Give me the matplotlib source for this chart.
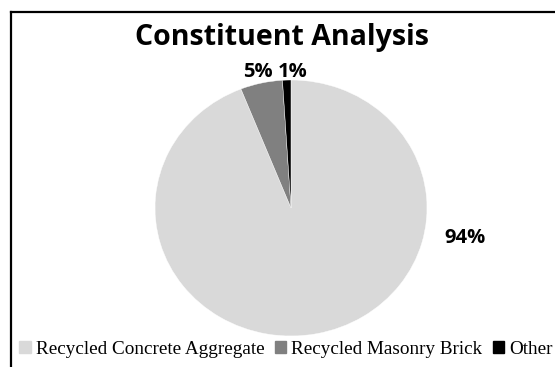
import matplotlib
matplotlib.use('Agg')
import matplotlib.pyplot as plt
from matplotlib.lines import Line2D

# data
categories = ['Recycled Concrete Aggregate', 'Recycled Masonry Brick', 'Other']
shares = [94, 5, 1]
colors = ['#d9d9d9', '#808080', '#000000']
pctLabels = ['94%', '5%', '1%']

W, H = 555, 367
fig = plt.figure(figsize=(W / 100, H / 100), dpi=100)
ax = fig.add_axes([0, 0, 1, 1])

# pie is slightly stretched horizontally in the reference
cx, cy = 291.0, 208.0   # centre in px (from top-left)
rx, ry = 136.0, 128.0   # radii in px

wedges, _ = ax.pie(shares, colors=colors, startangle=90, counterclock=False,
                   radius=1.0, center=(0, 0), frame=True,
                   wedgeprops=dict(edgecolor='white', linewidth=0.3))
ax.set_xlim(-cx / rx, (W - cx) / rx)
ax.set_ylim(-(H - cy) / ry, cy / ry)
ax.set_aspect('auto')
ax.axis('off')

labelFont = dict(family='Open Sans', fontweight='bold', fontsize=14.5)
labelPos = [(174 / rx, -30 / ry), (-33 / rx, 136 / ry), (2 / rx, 136 / ry)]
for (x, y), txt in zip(labelPos, pctLabels):
    ax.text(x, y, txt, ha='center', va='center', **labelFont)

fig.text(282 / W, 1 - 38 / H, 'Constituent Analysis', ha='center', va='center',
         family='Open Sans', fontweight='bold', fontsize=20.5)

handles = [plt.Rectangle((0, 0), 1, 1, color=c) for c in colors]
leg = fig.legend(handles, categories, loc='center', bbox_to_anchor=(286 / W, 1 - 349 / H),
                 ncol=3, frameon=False, prop=dict(family='Liberation Serif', size=13.8),
                 handlelength=0.6, handleheight=0.6, handletextpad=0.25, columnspacing=0.55,
                 borderpad=0)

# chart frame
fig.add_artist(Line2D([11 / W, 11 / W], [0, 1 - 12 / H], color='black', lw=1.6))
fig.add_artist(Line2D([11 / W, 1], [1 - 12 / H, 1 - 12 / H], color='black', lw=1.6))

fig.savefig('out.png', dpi=100)
